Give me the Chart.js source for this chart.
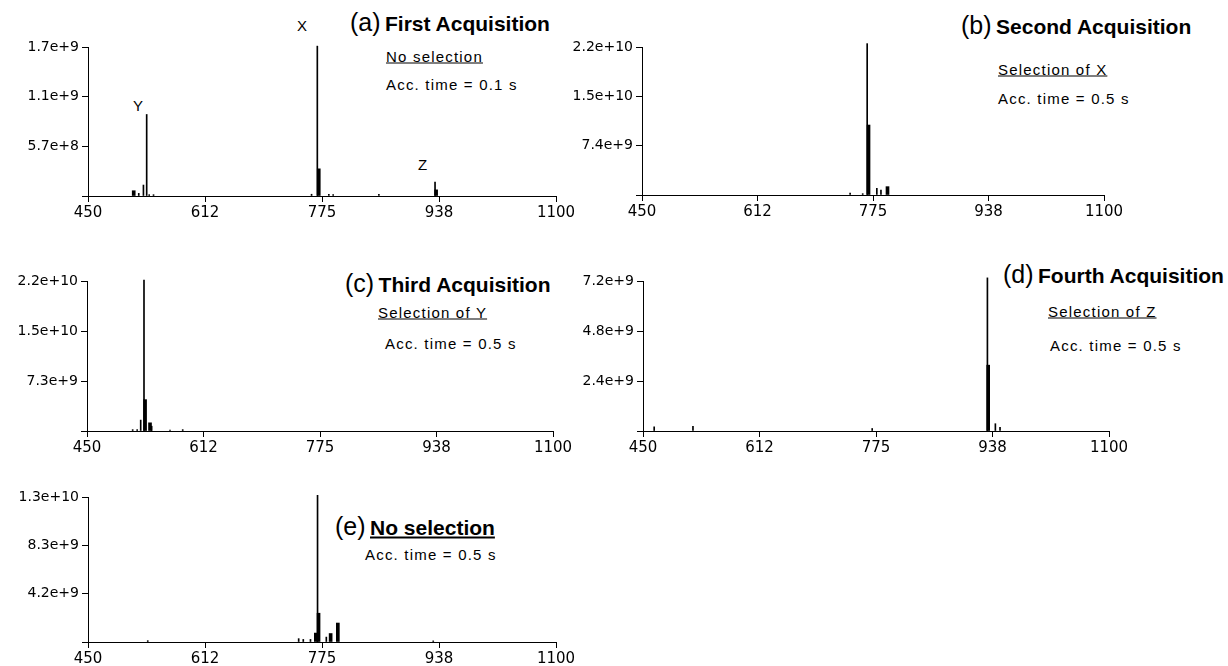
<!DOCTYPE html>
<html>
<head>
<meta charset="utf-8">
<script src="https://cdn.jsdelivr.net/npm/chart.js@4.4.1/dist/chart.umd.min.js"></script>
<style>
  body { margin: 0; background: #fff; width: 1228px; height: 666px; position: relative; overflow: hidden; font-family: "Liberation Sans", Arial, sans-serif; color: #000; }
  .box { position: absolute; }
  .t { position: absolute; white-space: nowrap; transform: translateY(-50%); line-height: 1; }
  .par { font-size: 25px; }
  .bold { font-weight: bold; font-size: 21px; }
  .sub { font-size: 15px; letter-spacing: 1.2px; }
  .lbl { font-size: 15px; }
  .u { text-decoration: underline; }
</style>
</head>
<body>

<div class="t lbl" style="left:297px;top:25px">X</div>
<div class="t lbl" style="left:133px;top:105px">Y</div>
<div class="t lbl" style="left:418px;top:164px">Z</div>
<div class="t" style="left:350px;top:22px"><span class="par">(a)</span> <span class="bold">First Acquisition</span></div>
<div class="t sub u" style="left:386px;top:56px">No selection</div>
<div class="t sub" style="left:386px;top:84px">Acc. time = 0.1 s</div>

<div class="t" style="left:961px;top:25px"><span class="par">(b)</span> <span class="bold">Second Acquisition</span></div>
<div class="t sub u" style="left:998px;top:69px">Selection of X</div>
<div class="t sub" style="left:998px;top:98px">Acc. time = 0.5 s</div>

<div class="t" style="left:345px;top:283px"><span class="par">(c)</span> <span class="bold">Third Acquisition</span></div>
<div class="t sub u" style="left:378px;top:312px">Selection of Y</div>
<div class="t sub" style="left:385px;top:343px">Acc. time = 0.5 s</div>

<div class="t" style="left:1003px;top:274px"><span class="par">(d)</span> <span class="bold">Fourth Acquisition</span></div>
<div class="t sub u" style="left:1048px;top:311px">Selection of Z</div>
<div class="t sub" style="left:1050px;top:345px">Acc. time = 0.5 s</div>

<div class="t" style="left:335px;top:526px"><span class="par">(e)</span> <span class="bold u">No selection</span></div>
<div class="t sub" style="left:365px;top:554px">Acc. time = 0.5 s</div>

<script>
// m/z axis, shared by all five spectra
const xTicks = [450, 612.5, 775, 937.5, 1100];
const xTickLabels = ['450', '612', '775', '938', '1100'];

// (a) first acquisition, no selection
const aYMax = 1.7e9;
const aYTickLabels = ['5.7e+8', '1.1e+9', '1.7e+9'];
const aThinMz = [520.5, 527, 531.5, 535, 541, 760.5, 768.5, 784.5, 790.5, 854, 932];
const aThinInt = [0.03e9, 0.125e9, 0.93e9, 0.015e9, 0.015e9, 0.02e9, 1.71e9, 0.02e9, 0.015e9, 0.02e9, 0.16e9];
const aThickMz = [513.5, 770.5, 933.5];
const aThickInt = [0.06e9, 0.31e9, 0.07e9];

// (b) selection of X
const bYMax = 2.2e10;
const bYTickLabels = ['7.4e+9', '1.5e+10', '2.2e+10'];
const bThinMz = [742.8, 760.5, 766.8, 780.4, 786.2];
const bThinInt = [0.03e10, 0.02e10, 2.25e10, 0.1e10, 0.074e10];
const bThickMz = [768.7, 795.4];
const bThickInt = [1.04e10, 0.124e10];

// (c) selection of Y
const cYMax = 2.2e10;
const cYTickLabels = ['7.3e+9', '1.5e+10', '2.2e+10'];
const cThinMz = [513.7, 520, 524.9, 529.5, 540.2, 565.8, 583.5];
const cThinInt = [0.02e10, 0.02e10, 0.16e10, 2.215e10, 0.07e10, 0.015e10, 0.02e10];
const cThickMz = [531, 537.9];
const cThickInt = [0.46e10, 0.12e10];

// (d) selection of Z
const dYMax = 7.2e9;
const dYTickLabels = ['2.4e+9', '4.8e+9', '7.2e+9'];
const dThinMz = [465.6, 519.7, 769.7, 930.4, 941.5, 948];
const dThinInt = [0.2e9, 0.22e9, 0.12e9, 7.35e9, 0.35e9, 0.18e9];
const dThickMz = [931.5];
const dThickInt = [3.16e9];

// (e) no selection, 0.5 s
const eYMax = 1.3e10;
const eYTickLabels = ['4.2e+9', '8.3e+9', '1.3e+10'];
const eThinMz = [533, 742.6, 749, 759, 768.8, 781, 929.5];
const eThinInt = [0.012e10, 0.03e10, 0.023e10, 0.023e10, 1.315e10, 0.044e10, 0.01e10];
const eThickMz = [766.4, 770.2, 787, 797];
const eThickInt = [0.08e10, 0.258e10, 0.076e10, 0.17e10];

// plot-area corners in the page: left, right, top, bottom
const panels = [
  { box: [88, 556, 47, 196], yMax: aYMax, yLabels: aYTickLabels, thin: [aThinMz, aThinInt], thick: [aThickMz, aThickInt] },
  { box: [642, 1104, 47, 195], yMax: bYMax, yLabels: bYTickLabels, thin: [bThinMz, bThinInt], thick: [bThickMz, bThickInt] },
  { box: [87, 553, 281, 431], yMax: cYMax, yLabels: cYTickLabels, thin: [cThinMz, cThinInt], thick: [cThickMz, cThickInt] },
  { box: [643, 1109, 281, 431], yMax: dYMax, yLabels: dYTickLabels, thin: [dThinMz, dThinInt], thick: [dThickMz, dThickInt] },
  { box: [88, 556, 497, 642], yMax: eYMax, yLabels: eYTickLabels, thin: [eThinMz, eThinInt], thick: [eThickMz, eThickInt] }
];

const YW = 86, XH = 28, PT = 12, PR = 24;

function points(mz, inten) {
  return mz.map((m, i) => ({ x: m, y: inten[i] }));
}

function drawPanel(p) {
  const [L, R, T, B] = p.box;
  const div = document.createElement('div');
  div.className = 'box';
  div.style.left = (L - YW) + 'px';
  div.style.top = (T - PT) + 'px';
  const canvas = document.createElement('canvas');
  canvas.width = (R - L) + YW + PR;
  canvas.height = (B - T) + PT + XH;
  div.appendChild(canvas);
  document.body.appendChild(div);

  const axisGrid = { display: true, offset: false, drawOnChartArea: false, drawTicks: true, tickLength: 6, color: '#000', lineWidth: 1 };
  new Chart(canvas.getContext('2d'), {
    type: 'bar',
    data: {
      datasets: [
        { data: points(p.thin[0], p.thin[1]), backgroundColor: '#000', barThickness: 1, grouped: false, clip: false },
        { data: points(p.thick[0], p.thick[1]), backgroundColor: '#000', barThickness: 3, grouped: false, clip: false }
      ]
    },
    options: {
      responsive: false,
      animation: false,
      devicePixelRatio: 1,
      layout: { padding: { top: PT, right: PR, left: 0, bottom: 0 } },
      plugins: { legend: { display: false }, tooltip: { enabled: false } },
      scales: {
        x: {
          type: 'linear', min: 450, max: 1100, offset: false,
          afterBuildTicks: s => { s.ticks = xTicks.map(v => ({ value: v })); },
          afterFit: s => { s.height = XH; },
          grid: axisGrid,
          border: { display: true, color: '#000', width: 1 },
          ticks: { color: '#000', padding: 2, maxRotation: 0, autoSkip: false, font: { family: 'DejaVu Sans', size: 15 },
            callback: (v, i) => xTickLabels[i] }
        },
        y: {
          type: 'linear', min: 0, max: p.yMax,
          afterBuildTicks: s => { s.ticks = [0, 1, 2, 3].map(k => ({ value: p.yMax * k / 3 })); },
          afterFit: s => { s.width = YW; },
          grid: axisGrid,
          border: { display: true, color: '#000', width: 1 },
          ticks: { color: '#000', padding: 3, autoSkip: false, font: { family: 'DejaVu Sans', size: 14 },
            callback: (v, i) => ['', ...p.yLabels][i] }
        }
      }
    }
  });
}

panels.forEach(drawPanel);
</script>
</body>
</html>
